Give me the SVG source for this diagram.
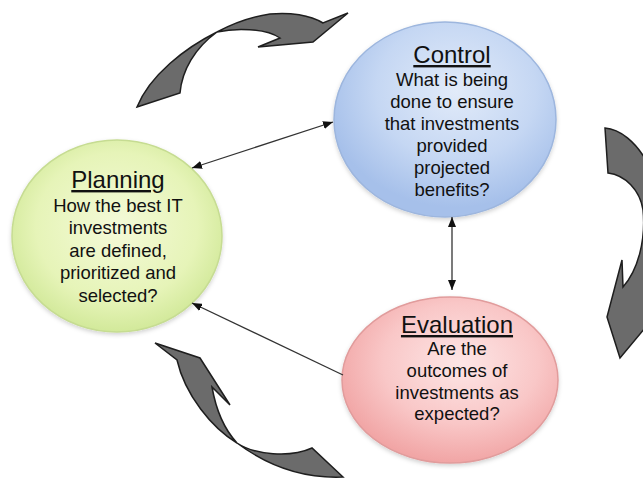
<svg xmlns="http://www.w3.org/2000/svg" width="643" height="488" viewBox="0 0 643 488">
<defs>
<radialGradient id="gPlan" cx="0.5" cy="0.45" r="0.55">
<stop offset="0" stop-color="#f4fad8"/>
<stop offset="0.7" stop-color="#e6f4b8"/>
<stop offset="1" stop-color="#d2e99a"/>
</radialGradient>
<radialGradient id="gCtrl" cx="0.55" cy="0.35" r="0.6">
<stop offset="0" stop-color="#e2ebf9"/>
<stop offset="0.6" stop-color="#c5d7f3"/>
<stop offset="1" stop-color="#a6c0ea"/>
</radialGradient>
<radialGradient id="gEval" cx="0.55" cy="0.4" r="0.6">
<stop offset="0" stop-color="#fde6e6"/>
<stop offset="0.6" stop-color="#f9c7c7"/>
<stop offset="1" stop-color="#f1a5a5"/>
</radialGradient>
<filter id="sh" x="-10%" y="-10%" width="120%" height="125%">
<feDropShadow dx="0" dy="2" stdDeviation="2" flood-color="#000" flood-opacity="0.18"/>
</filter>
<marker id="ah" viewBox="0 0 10 8" markerWidth="10" markerHeight="8" refX="10" refY="4" orient="auto-start-reverse" markerUnits="userSpaceOnUse">
<path d="M0,0 L10,4 L0,8 Z" fill="#111"/>
</marker>
</defs>
<style>
.t{font-family:"Liberation Sans",Arial,sans-serif;fill:#111;text-anchor:middle}
.h{font-size:24px;text-decoration:underline}
.b{font-size:18.5px}
.con{stroke:#333;stroke-width:1.3;fill:none}
.ca{fill:#6b6b6b;stroke:#1e1e1e;stroke-width:1.5;stroke-linejoin:miter}
</style>
<rect width="643" height="488" fill="#fff"/>
<g id="cycle-arrows">
<path class="ca" d="M137,107 L180,93 C182,70 195,48 217,32 C235,28 265,28 280,38 L258,47 L313,42 L348,13 L323,23 C310,15 290,12 270,14 C250,17 230,25 217,32 C185,48 150,75 137,107 Z"/>
<path class="ca" d="M605,128 C635,130 668,180 664,240 C661,285 655,310 650,322 L620,358 L607,317 L622,260 L623,287 C638,270 646,240 643,210 C640,190 625,175 608,173 Z"/>
<path class="ca" d="M155,343 L200,358 L230,405 L212,387 C216,410 225,430 237,443 C255,455 290,458 312,448 L343,477 C320,478 280,475 237,443 C212,428 185,395 177,360 Z"/>
</g>
<g id="planning">
<ellipse cx="117" cy="236" rx="105" ry="96" fill="url(#gPlan)" stroke="#c6dc92" stroke-width="1.5" filter="url(#sh)"/>
<text class="t h" x="118" y="188">Planning</text>
<text class="t b" x="118" y="211.5">How the best IT</text>
<text class="t b" x="118" y="234">investments</text>
<text class="t b" x="118" y="256.5">are defined,</text>
<text class="t b" x="118" y="279">prioritized and</text>
<text class="t b" x="118" y="301.5">selected?</text>
</g>
<g id="control">
<ellipse cx="445" cy="119.5" rx="111" ry="97.5" fill="url(#gCtrl)" stroke="#9db6de" stroke-width="1.5" filter="url(#sh)"/>
<text class="t h" x="452" y="63">Control</text>
<text class="t b" x="452" y="85.5">What is being</text>
<text class="t b" x="452" y="107.5">done to ensure</text>
<text class="t b" x="452" y="129.5">that investments</text>
<text class="t b" x="452" y="151.5">provided</text>
<text class="t b" x="452" y="173.5">projected</text>
<text class="t b" x="452" y="195.5">benefits?</text>
</g>
<g id="evaluation">
<ellipse cx="450" cy="380" rx="108" ry="83" fill="url(#gEval)" stroke="#e19c9c" stroke-width="1.5" filter="url(#sh)"/>
<text class="t h" x="457" y="333">Evaluation</text>
<text class="t b" x="457" y="355">Are the</text>
<text class="t b" x="457" y="377">outcomes of</text>
<text class="t b" x="457" y="398.5">investments as</text>
<text class="t b" x="457" y="420">expected?</text>
</g>
<g id="connectors">
<line class="con" x1="192" y1="168" x2="333" y2="122" marker-start="url(#ah)" marker-end="url(#ah)"/>
<line class="con" x1="452" y1="217" x2="452" y2="290" marker-start="url(#ah)" marker-end="url(#ah)"/>
<line class="con" x1="343" y1="375" x2="192" y2="303" marker-end="url(#ah)"/>
</g>
</svg>
